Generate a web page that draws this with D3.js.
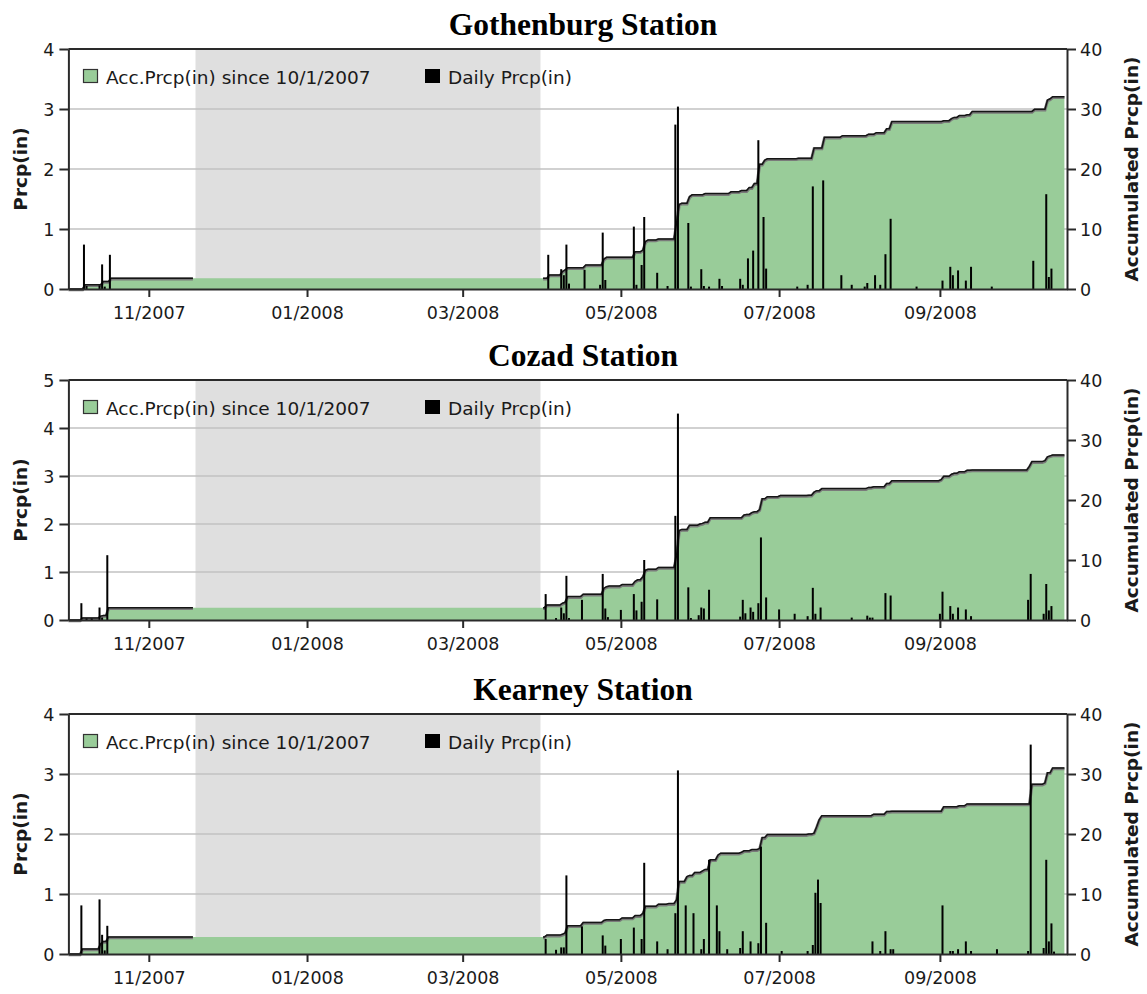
<!DOCTYPE html>
<html>
<head>
<meta charset="utf-8">
<script src="https://cdn.jsdelivr.net/npm/d3@7"></script>
<style>
  html, body { margin: 0; padding: 0; background: #fff; }
  svg { display: block; }
</style>
</head>
<body>
<svg id="chart" width="1147" height="994"></svg>
<script>
// ---------------- data ----------------
const stations = ["Gothenburg Station", "Cozad Station", "Kearney Station"];
const leftTicks = [[0, 1, 2, 3, 4], [0, 1, 2, 3, 4, 5], [0, 1, 2, 3, 4]];
const rightTicks = [0, 10, 20, 30, 40];
const xTicks = ["2007-11-01", "2008-01-01", "2008-03-01", "2008-05-01", "2008-07-01", "2008-09-01"];
const legendLabels = ["Acc.Prcp(in) since 10/1/2007", "Daily Prcp(in)"];
const axisTitles = ["Prcp(in)", "Accumulated Prcp(in)"];
const periodStart = "2007-10-01";
const periodEnd = "2008-10-20";
const lastObs = "2008-10-19";
const offSeason = ["2007-11-19", "2008-03-31"];      // shaded winter period
const outlineGap = ["2007-11-18", "2008-04-01"];     // no outline drawn in between

// daily precipitation (in)
const gothenburgDaily = [
  ["2007-10-07", 0.74], ["2007-10-08", 0.05], ["2007-10-13", 0.06], ["2007-10-14", 0.41], ["2007-10-15", 0.04], ["2007-10-17", 0.57],
  ["2008-04-03", 0.57], ["2008-04-08", 0.33], ["2008-04-09", 0.23], ["2008-04-10", 0.74], ["2008-04-11", 0.09], ["2008-04-17", 0.32],
  ["2008-04-23", 0.07], ["2008-04-24", 0.94], ["2008-04-25", 0.15],
  ["2008-05-06", 1.04], ["2008-05-07", 0.07], ["2008-05-09", 0.40], ["2008-05-10", 1.20], ["2008-05-15", 0.27], ["2008-05-19", 0.05],
  ["2008-05-22", 2.74], ["2008-05-23", 3.04], ["2008-05-27", 1.10], ["2008-05-28", 0.04],
  ["2008-06-01", 0.33], ["2008-06-02", 0.05], ["2008-06-04", 0.04], ["2008-06-08", 0.17], ["2008-06-09", 0.05], ["2008-06-16", 0.17],
  ["2008-06-17", 0.07], ["2008-06-19", 0.51], ["2008-06-21", 0.64], ["2008-06-23", 2.48], ["2008-06-25", 1.20], ["2008-06-26", 0.34],
  ["2008-07-08", 0.04], ["2008-07-12", 0.07], ["2008-07-14", 1.71], ["2008-07-18", 1.81], ["2008-07-25", 0.23], ["2008-07-29", 0.07],
  ["2008-08-03", 0.04], ["2008-08-04", 0.10], ["2008-08-07", 0.23], ["2008-08-09", 0.07], ["2008-08-11", 0.58], ["2008-08-13", 1.17],
  ["2008-08-23", 0.04],
  ["2008-09-02", 0.14], ["2008-09-05", 0.37], ["2008-09-06", 0.23], ["2008-09-08", 0.31], ["2008-09-11", 0.14], ["2008-09-13", 0.37],
  ["2008-09-21", 0.04],
  ["2008-10-07", 0.47], ["2008-10-12", 1.58], ["2008-10-13", 0.20], ["2008-10-14", 0.34]
];
const cozadDaily = [
  ["2007-10-06", 0.35], ["2007-10-08", 0.03], ["2007-10-10", 0.03], ["2007-10-13", 0.26], ["2007-10-14", 0.05], ["2007-10-16", 1.35],
  ["2008-04-02", 0.54], ["2008-04-06", 0.04], ["2008-04-08", 0.26], ["2008-04-09", 0.14], ["2008-04-10", 0.92], ["2008-04-11", 0.04],
  ["2008-04-16", 0.42], ["2008-04-24", 0.96], ["2008-04-25", 0.24], ["2008-04-26", 0.06],
  ["2008-05-01", 0.21], ["2008-05-06", 0.54], ["2008-05-07", 0.20], ["2008-05-09", 0.38], ["2008-05-10", 1.25], ["2008-05-15", 0.43],
  ["2008-05-22", 2.17], ["2008-05-23", 4.30], ["2008-05-27", 0.68], ["2008-05-28", 0.04], ["2008-05-31", 0.10],
  ["2008-06-01", 0.26], ["2008-06-02", 0.24], ["2008-06-04", 0.63], ["2008-06-16", 0.07], ["2008-06-17", 0.42], ["2008-06-18", 0.14],
  ["2008-06-20", 0.26], ["2008-06-21", 0.17], ["2008-06-23", 0.35], ["2008-06-24", 1.72], ["2008-06-26", 0.47],
  ["2008-07-01", 0.22], ["2008-07-07", 0.13], ["2008-07-12", 0.08], ["2008-07-14", 0.67], ["2008-07-15", 0.13], ["2008-07-17", 0.26],
  ["2008-07-29", 0.05],
  ["2008-08-04", 0.09], ["2008-08-05", 0.05], ["2008-08-06", 0.05], ["2008-08-11", 0.56], ["2008-08-13", 0.51],
  ["2008-09-01", 0.13], ["2008-09-02", 0.59], ["2008-09-05", 0.29], ["2008-09-06", 0.13], ["2008-09-08", 0.26], ["2008-09-11", 0.22],
  ["2008-09-13", 0.08],
  ["2008-10-05", 0.42], ["2008-10-06", 0.96], ["2008-10-11", 0.13], ["2008-10-12", 0.75], ["2008-10-13", 0.20], ["2008-10-14", 0.29]
];
const kearneyDaily = [
  ["2007-10-06", 0.81], ["2007-10-13", 0.91], ["2007-10-14", 0.32], ["2007-10-15", 0.06], ["2007-10-16", 0.47],
  ["2008-04-02", 0.25], ["2008-04-06", 0.07], ["2008-04-08", 0.11], ["2008-04-09", 0.11], ["2008-04-10", 1.31], ["2008-04-16", 0.46],
  ["2008-04-24", 0.31], ["2008-04-25", 0.14],
  ["2008-05-01", 0.25], ["2008-05-06", 0.44], ["2008-05-09", 0.25], ["2008-05-10", 1.52], ["2008-05-15", 0.21], ["2008-05-19", 0.08],
  ["2008-05-22", 0.68], ["2008-05-23", 3.06], ["2008-05-26", 0.81], ["2008-05-29", 0.68],
  ["2008-06-01", 0.08], ["2008-06-02", 0.25], ["2008-06-04", 1.57], ["2008-06-07", 0.81], ["2008-06-08", 0.38], ["2008-06-11", 0.08],
  ["2008-06-16", 0.10], ["2008-06-17", 0.38], ["2008-06-20", 0.21], ["2008-06-23", 0.18], ["2008-06-24", 1.79], ["2008-06-26", 0.52],
  ["2008-07-02", 0.05], ["2008-07-12", 0.05], ["2008-07-14", 0.15], ["2008-07-15", 1.02], ["2008-07-16", 1.24], ["2008-07-17", 0.85],
  ["2008-08-06", 0.21], ["2008-08-09", 0.05], ["2008-08-11", 0.38], ["2008-08-13", 0.08], ["2008-08-14", 0.08],
  ["2008-09-02", 0.81], ["2008-09-05", 0.05], ["2008-09-06", 0.05], ["2008-09-08", 0.08], ["2008-09-11", 0.21], ["2008-09-13", 0.05],
  ["2008-09-23", 0.08],
  ["2008-10-05", 0.05], ["2008-10-06", 3.49], ["2008-10-11", 0.10], ["2008-10-12", 1.57], ["2008-10-13", 0.21], ["2008-10-14", 0.51],
  ["2008-10-15", 0.04]
];

// accumulated precipitation since 10/1/2007 (in), value reached on each date
const gothenburgAcc = [
  ["2007-10-07", 0.72], ["2007-10-14", 1.25], ["2007-10-17", 1.80],
  ["2008-04-03", 2.33], ["2008-04-08", 2.90], ["2008-04-09", 3.17], ["2008-04-10", 3.56], ["2008-04-17", 4.00], ["2008-04-24", 5.00],
  ["2008-04-25", 5.28],
  ["2008-05-06", 6.20], ["2008-05-09", 6.50], ["2008-05-10", 7.90], ["2008-05-11", 8.17], ["2008-05-15", 8.33], ["2008-05-22", 11.1],
  ["2008-05-23", 14.1], ["2008-05-24", 14.3], ["2008-05-27", 15.4], ["2008-05-28", 15.7],
  ["2008-06-02", 15.9], ["2008-06-12", 16.2], ["2008-06-16", 16.4], ["2008-06-19", 16.9], ["2008-06-21", 17.6], ["2008-06-23", 20.8],
  ["2008-06-25", 21.5], ["2008-06-26", 21.7],
  ["2008-07-08", 21.8], ["2008-07-14", 23.5], ["2008-07-18", 25.3], ["2008-07-25", 25.55],
  ["2008-08-04", 25.8], ["2008-08-07", 26.05], ["2008-08-11", 26.7], ["2008-08-13", 27.9],
  ["2008-09-02", 28.05], ["2008-09-05", 28.4], ["2008-09-06", 28.6], ["2008-09-08", 28.9], ["2008-09-11", 29.05], ["2008-09-13", 29.6],
  ["2008-10-07", 29.95], ["2008-10-12", 31.5], ["2008-10-13", 31.7], ["2008-10-14", 32.05]
];
const cozadAcc = [
  ["2007-10-06", 0.35], ["2007-10-13", 0.65], ["2007-10-14", 0.75], ["2007-10-16", 2.05],
  ["2008-04-02", 2.50], ["2008-04-08", 2.80], ["2008-04-09", 2.95], ["2008-04-10", 3.90], ["2008-04-16", 4.30], ["2008-04-24", 5.30],
  ["2008-04-25", 5.55], ["2008-04-26", 5.65],
  ["2008-05-01", 5.90], ["2008-05-06", 6.45], ["2008-05-07", 6.70], ["2008-05-09", 7.20], ["2008-05-10", 8.30], ["2008-05-11", 8.45],
  ["2008-05-15", 8.75], ["2008-05-22", 10.8], ["2008-05-23", 14.9], ["2008-05-24", 15.1], ["2008-05-27", 15.8], ["2008-05-31", 16.0],
  ["2008-06-01", 16.1], ["2008-06-02", 16.3], ["2008-06-04", 17.05], ["2008-06-17", 17.5], ["2008-06-18", 17.6], ["2008-06-20", 17.9],
  ["2008-06-21", 18.05], ["2008-06-23", 18.4], ["2008-06-24", 20.2], ["2008-06-26", 20.55],
  ["2008-07-01", 20.75], ["2008-07-12", 20.8], ["2008-07-14", 21.3], ["2008-07-15", 21.55], ["2008-07-17", 21.9],
  ["2008-08-04", 22.1], ["2008-08-06", 22.2], ["2008-08-11", 22.75], ["2008-08-13", 23.2],
  ["2008-09-01", 23.4], ["2008-09-02", 23.95], ["2008-09-05", 24.3], ["2008-09-06", 24.45], ["2008-09-08", 24.7], ["2008-09-11", 24.95],
  ["2008-09-13", 25.0],
  ["2008-10-05", 25.6], ["2008-10-06", 26.4], ["2008-10-11", 26.55], ["2008-10-12", 27.2], ["2008-10-13", 27.35], ["2008-10-14", 27.5]
];
const kearneyAcc = [
  ["2007-10-06", 0.83], ["2007-10-13", 1.72], ["2007-10-14", 2.10], ["2007-10-16", 2.83],
  ["2008-04-02", 3.15], ["2008-04-08", 3.30], ["2008-04-09", 3.50], ["2008-04-10", 4.70], ["2008-04-16", 5.25], ["2008-04-24", 5.60],
  ["2008-04-25", 5.70],
  ["2008-05-01", 6.00], ["2008-05-06", 6.40], ["2008-05-09", 6.80], ["2008-05-10", 7.95], ["2008-05-15", 8.30], ["2008-05-19", 8.40],
  ["2008-05-22", 9.05], ["2008-05-23", 12.1], ["2008-05-26", 12.9], ["2008-05-27", 13.1], ["2008-05-29", 13.6],
  ["2008-06-01", 13.85], ["2008-06-02", 14.1], ["2008-06-04", 15.7], ["2008-06-07", 16.5], ["2008-06-08", 16.8], ["2008-06-16", 16.95],
  ["2008-06-17", 17.2], ["2008-06-20", 17.4], ["2008-06-23", 17.6], ["2008-06-24", 19.4], ["2008-06-26", 19.9],
  ["2008-07-12", 20.0], ["2008-07-14", 20.15], ["2008-07-15", 21.2], ["2008-07-16", 22.4], ["2008-07-17", 23.05],
  ["2008-08-06", 23.3], ["2008-08-11", 23.75], ["2008-08-13", 23.8],
  ["2008-09-02", 24.55], ["2008-09-08", 24.7], ["2008-09-11", 25.0],
  ["2008-10-06", 28.3], ["2008-10-11", 28.5], ["2008-10-12", 30.2], ["2008-10-14", 31.0]
];

const dailySeries = [gothenburgDaily, cozadDaily, kearneyDaily];
const accSeries = [gothenburgAcc, cozadAcc, kearneyAcc];

// ---------------- layout & style ----------------
const PLOT_L = 68.4, PLOT_R = 1067, PLOT_H = 240;
const panelTops = [49, 380, 714];
const GREEN = "#99cc99", SHADE = "#dfdfdf", GRID = "#c2c2c2", INK = "#2a2a2a";
const SANS = "'DejaVu Sans', sans-serif";
const DAY = 864e5;

const parse = d3.utcParse("%Y-%m-%d");
const svg = d3.select("#chart");
const x = d3.scaleUtc().domain([parse(periodStart), parse(periodEnd)]).range([PLOT_L, PLOT_R]);

// Accumulated curve: a one-day ramp centred on each rain day, flat otherwise.
function accPoints(acc) {
  const pts = [{ t: +parse(periodStart), v: 0 }];
  let prev = 0;
  for (const [d, v] of acc) {
    const t = +parse(d);
    pts.push({ t: t - DAY / 2, v: prev }, { t: t + DAY / 2, v: v });
    prev = v;
  }
  pts.push({ t: +parse(lastObs), v: prev });
  // edges of the outline gap, with a break marker between them
  const g0 = +parse(outlineGap[0]), g1 = +parse(outlineGap[1]);
  const valueAt = t => { let v = 0; for (const p of pts) if (p.t <= t) v = p.v; return v; };
  pts.push({ t: g0, v: valueAt(g0) }, { t: g1, v: valueAt(g1) }, { t: (g0 + g1) / 2, v: valueAt(g0), gap: true });
  pts.sort((a, b) => a.t - b.t);
  return pts;
}

function drawPanel(i) {
  const top = panelTops[i], bottom = top + PLOT_H;
  const lt = leftTicks[i];
  const yL = d3.scaleLinear().domain([0, d3.max(lt)]).range([bottom, top]);
  const yR = d3.scaleLinear().domain([0, d3.max(rightTicks)]).range([bottom, top]);
  const g = svg.append("g");

  // winter shading
  g.append("rect")
    .attr("x", x(parse(offSeason[0]))).attr("y", top)
    .attr("width", x(parse(offSeason[1])) - x(parse(offSeason[0]))).attr("height", PLOT_H)
    .attr("fill", SHADE);

  // horizontal grid on left ticks
  g.append("g").selectAll("line")
    .data(lt.filter(v => v > 0 && v < d3.max(lt)))
    .join("line")
    .attr("x1", PLOT_L).attr("x2", PLOT_R)
    .attr("y1", d => yL(d)).attr("y2", d => yL(d))
    .attr("stroke", GRID).attr("stroke-width", 1.5);

  // accumulated area + outline
  const pts = accPoints(accSeries[i]);
  g.append("path").datum(pts.filter(p => !p.gap))
    .attr("fill", GREEN)
    .attr("d", d3.area().x(p => x(p.t)).y0(bottom).y1(p => yR(p.v)));

  const outline = d3.line().x(p => x(p.t)).y(p => yR(p.v)).defined(p => !p.gap);
  g.append("path").datum(pts)
    .attr("fill", "none").attr("stroke", "#7a7a7a").attr("stroke-width", 3)
    .attr("transform", "translate(0,0.8)")
    .attr("d", outline);
  g.append("path").datum(pts)
    .attr("fill", "none").attr("stroke", "#151515").attr("stroke-width", 1.5)
    .attr("d", outline);

  // daily bars
  g.append("g").selectAll("rect")
    .data(dailySeries[i])
    .join("rect")
    .attr("x", d => x(parse(d[0])) - 1)
    .attr("width", 2)
    .attr("y", d => yL(d[1]))
    .attr("height", d => bottom - yL(d[1]))
    .attr("fill", "#000");

  // frame top
  g.append("line")
    .attr("x1", PLOT_L).attr("x2", PLOT_R).attr("y1", top).attr("y2", top)
    .attr("stroke", INK).attr("stroke-width", 2);

  const styleAxis = sel => {
    sel.selectAll("path.domain").attr("stroke", INK).attr("stroke-width", 2);
    sel.selectAll(".tick line").attr("stroke", INK).attr("stroke-width", 2);
    sel.selectAll("text").attr("font-family", SANS).attr("font-size", 17.5).attr("fill", "#1a1a1a");
  };

  g.append("g")
    .attr("transform", `translate(${PLOT_L},0)`)
    .call(d3.axisLeft(yL).tickValues(lt).tickFormat(d3.format("d")).tickSize(9).tickSizeOuter(0).tickPadding(5))
    .call(styleAxis)
    .selectAll("text").attr("dy", "0.36em");

  g.append("g")
    .attr("transform", `translate(${PLOT_R},0)`)
    .call(d3.axisRight(yR).tickValues(rightTicks).tickFormat(d3.format("d")).tickSize(9).tickSizeOuter(0).tickPadding(4))
    .call(styleAxis)
    .selectAll("text").attr("dy", "0.36em");

  g.append("g")
    .attr("transform", `translate(0,${bottom})`)
    .call(d3.axisBottom(x).tickValues(xTicks.map(parse)).tickFormat(d3.utcFormat("%m/%Y")).tickSize(8).tickSizeOuter(0).tickPadding(7))
    .call(styleAxis)
    .selectAll("text").attr("dy", "0.85em");

  // legend
  const lg = g.append("g").attr("font-family", SANS).attr("font-size", 18.5).attr("fill", "#1a1a1a");
  lg.append("rect").attr("x", 83.5).attr("y", top + 20.5).attr("width", 14).attr("height", 13)
    .attr("fill", GREEN).attr("stroke", "#333").attr("stroke-width", 1.2);
  lg.append("text").attr("x", 106).attr("y", top + 34.5).text(legendLabels[0]);
  lg.append("rect").attr("x", 425).attr("y", top + 20).attr("width", 15).attr("height", 14).attr("fill", "#000");
  lg.append("text").attr("x", 448).attr("y", top + 34.5).text(legendLabels[1]);

  // titles
  svg.append("text")
    .attr("x", 583).attr("y", top - 14)
    .attr("text-anchor", "middle")
    .attr("font-family", "'Liberation Serif', 'Times New Roman', serif")
    .attr("font-weight", "bold").attr("font-size", 31.5).attr("fill", "#000")
    .text(stations[i]);

  svg.append("text")
    .attr("transform", `translate(26.5,${top + PLOT_H / 2}) rotate(-90)`)
    .attr("text-anchor", "middle")
    .attr("font-family", SANS).attr("font-weight", "bold").attr("font-size", 18.5).attr("fill", "#1a1a1a")
    .text(axisTitles[0]);

  svg.append("text")
    .attr("transform", `translate(1138,${top + PLOT_H / 2}) rotate(-90)`)
    .attr("text-anchor", "middle")
    .attr("font-family", SANS).attr("font-weight", "bold").attr("font-size", 18.5).attr("fill", "#1a1a1a")
    .text(axisTitles[1]);
}

stations.forEach((_, i) => drawPanel(i));
</script>
</body>
</html>
